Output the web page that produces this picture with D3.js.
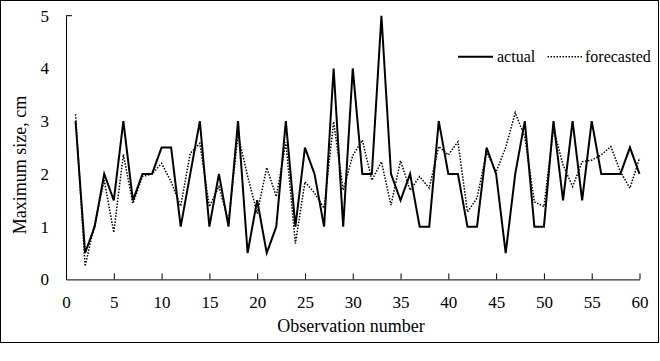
<!DOCTYPE html>
<html>
<head>
<meta charset="utf-8">
<script src="https://cdn.jsdelivr.net/npm/d3@7/dist/d3.min.js"></script>
<style>
  html, body { margin: 0; padding: 0; background: #fff; }
  svg { display: block; }
  text { font-family: "Liberation Serif", "Times New Roman", serif; fill: #000; }
</style>
</head>
<body>
<svg id="chart" width="660" height="361"></svg>
<script>
const observations = d3.range(1, 61);
const actual = [3, 0.5, 1, 2, 1.5, 3, 1.5, 2, 2, 2.5,
                2.5, 1, 2, 3, 1, 2, 1, 3, 0.5, 1.5,
                0.5, 1, 3, 1, 2.5, 2, 1, 4, 1, 4,
                2, 2, 5, 2, 1.5, 2, 1, 1, 3, 2,
                2, 1, 1, 2.5, 2, 0.5, 2, 3, 1, 1,
                3, 1.5, 3, 1.5, 3, 2, 2, 2, 2.5, 2];
const forecasted = [3.13, 0.25, 1.05, 1.88, 0.89, 2.37, 1.44, 1.95, 2.0, 2.2,
                    1.85, 1.39, 2.39, 2.58, 1.38, 1.76, 1.1, 2.74, 1.96, 1.25,
                    2.12, 1.57, 2.6, 0.68, 1.85, 1.64, 1.35, 2.99, 1.69, 2.35,
                    2.64, 1.88, 2.23, 1.41, 2.25, 1.69, 1.95, 1.73, 2.52, 2.36,
                    2.61, 1.28, 1.54, 2.42, 2.04, 2.5, 3.16, 2.7, 1.47, 1.38,
                    2.86, 2.17, 1.76, 2.23, 2.26, 2.36, 2.52, 2.04, 1.73, 2.3];
const xTicks = [0, 5, 10, 15, 20, 25, 30, 35, 40, 45, 50, 55, 60];
const yTicks = [0, 1, 2, 3, 4, 5];
const seriesNames = ["actual", "forecasted"];
const xTitle = "Observation number";
const yTitle = "Maximum size, cm";

const svg = d3.select("#chart");

// outer frame
svg.append("rect")
  .attr("x", 0.5).attr("y", 0.5)
  .attr("width", 658).attr("height", 342)
  .attr("fill", "#fff").attr("stroke", "#000").attr("stroke-width", 1);

const x = d3.scaleLinear().domain([0, 60]).range([66, 639.5]);
const y = d3.scaleLinear().domain([0, 5]).range([279.4, 15.7]);

// x axis
const gx = svg.append("g")
  .attr("transform", `translate(0,${y(0)})`)
  .call(d3.axisBottom(x).tickValues(xTicks).tickFormat(d3.format("d"))
        .tickSizeInner(-6).tickSizeOuter(0).tickPadding(17));
gx.select(".domain").attr("stroke", "#000").attr("stroke-width", 1);
gx.selectAll(".tick line").attr("stroke", "#000");
gx.selectAll("text").attr("font-size", 17).attr("font-family", "Liberation Serif");

// y axis
const gy = svg.append("g")
  .attr("transform", `translate(${x(0)},0)`)
  .call(d3.axisLeft(y).tickValues(yTicks).tickFormat(d3.format("d"))
        .tickSize(0).tickPadding(17));
gy.select(".domain").attr("stroke", "#000").attr("stroke-width", 1);
gy.selectAll("text").attr("font-size", 17).attr("font-family", "Liberation Serif");
// small cap tick at the top of the y axis
svg.append("line")
  .attr("x1", x(0)).attr("x2", x(0) + 6)
  .attr("y1", y(5)).attr("y2", y(5))
  .attr("stroke", "#000").attr("stroke-width", 1);

// lines
const lineGen = d3.line()
  .x((d, i) => x(observations[i]))
  .y(d => y(d));

svg.append("path")
  .datum(forecasted)
  .attr("d", lineGen)
  .attr("fill", "none")
  .attr("stroke", "#000")
  .attr("stroke-width", 1.5)
  .attr("stroke-dasharray", "1.5,1.5");

svg.append("path")
  .datum(actual)
  .attr("d", lineGen)
  .attr("fill", "none")
  .attr("stroke", "#000")
  .attr("stroke-width", 2)
  .attr("stroke-linejoin", "miter");

// axis titles
svg.append("text")
  .attr("x", 351).attr("y", 332)
  .attr("text-anchor", "middle")
  .attr("font-size", 18)
  .text(xTitle);

svg.append("text")
  .attr("transform", "translate(26,165) rotate(-90)")
  .attr("text-anchor", "middle")
  .attr("font-size", 18)
  .text(yTitle);

// legend
const legend = svg.append("g");
legend.append("line")
  .attr("x1", 458).attr("x2", 493).attr("y1", 56.7).attr("y2", 56.7)
  .attr("stroke", "#000").attr("stroke-width", 2);
legend.append("text")
  .attr("x", 497).attr("y", 61.5).attr("font-size", 16).text(seriesNames[0]);
legend.append("line")
  .attr("x1", 547.5).attr("x2", 582).attr("y1", 56.7).attr("y2", 56.7)
  .attr("stroke", "#000").attr("stroke-width", 1.5).attr("stroke-dasharray", "1.5,1.5");
legend.append("text")
  .attr("x", 585).attr("y", 61.5).attr("font-size", 16).text(seriesNames[1]);
</script>
</body>
</html>
